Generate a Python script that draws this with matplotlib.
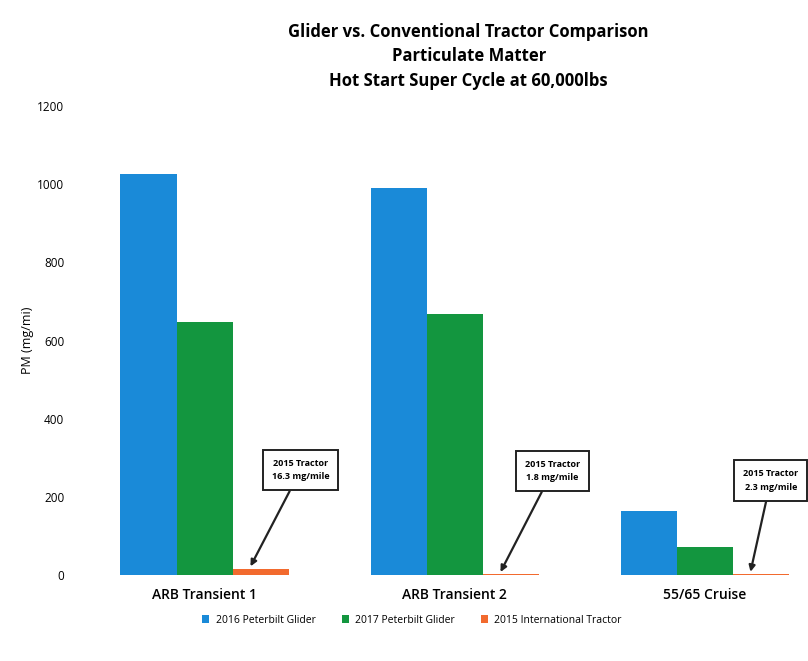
import matplotlib.pyplot as plt
import numpy as np

plt.rcParams["font.family"] = ["Open Sans", "DejaVu Sans"]

categories = ["ARB Transient 1", "ARB Transient 2", "55/65 Cruise"]
series = ["2016 Peterbilt Glider", "2017 Peterbilt Glider", "2015 International Tractor"]
glider_2016 = [1025, 990, 165]
glider_2017 = [648, 668, 72]
tractor_2015 = [16.3, 1.8, 2.3]
note_labels = ["2015 Tractor\n16.3 mg/mile", "2015 Tractor\n1.8 mg/mile", "2015 Tractor\n2.3 mg/mile"]
y_ticks = [0, 200, 400, 600, 800, 1000, 1200]

colors = ["#1a8ad8", "#13963f", "#f26a2e"]

fig = plt.figure(figsize=(8.08, 6.61), dpi=100)
ax = fig.add_axes([92 / 808, 0.130, 719 / 808, 0.7095])

x = np.arange(len(categories))
w = 0.224
for i, (name, vals) in enumerate(zip(series, [glider_2016, glider_2017, tractor_2015])):
    ax.bar(x + (i - 1) * w, vals, w, color=colors[i], label=name)

# callout boxes pointing at the tiny 2015 tractor bars
text_pos = [(0.384, 268), (1.392, 266), (2.265, 242)]
for xi, val, note, (tx, ty) in zip(x, tractor_2015, note_labels, text_pos):
    ax.annotate(
        note,
        xy=(xi + w - 0.04, val + 6),
        xytext=(tx, ty),
        ha="center",
        va="center",
        fontsize=6.5,
        fontweight="bold",
        linespacing=1.6,
        bbox=dict(boxstyle="square,pad=1.0", fc="white", ec="#222222", lw=1.4),
        arrowprops=dict(arrowstyle="-|>", color="#222222", lw=1.6, mutation_scale=9, shrinkA=0, shrinkB=0),
        annotation_clip=False,
    )

ax.set_xlim(-0.45, 2.426)
ax.set_ylim(0, 1200)
ax.set_yticks(y_ticks)
ax.set_yticklabels([str(t) for t in y_ticks], fontsize=8.5)
ax.set_xticks(x)
ax.set_xticklabels(categories, fontsize=10, fontweight="semibold")
ax.tick_params(axis="both", length=0)
ax.tick_params(axis="y", pad=20)
ax.tick_params(axis="x", pad=9)
for s in ax.spines.values():
    s.set_visible(False)
ax.set_ylabel("PM (mg/mi)", fontsize=9, labelpad=2)

fig.text(0.58, 0.952, "Glider vs. Conventional Tractor Comparison", ha="center", va="center",
         fontsize=12, fontweight="bold")
fig.text(0.58, 0.915, "Particulate Matter", ha="center", va="center", fontsize=12, fontweight="bold")
fig.text(0.58, 0.877, "Hot Start Super Cycle at 60,000lbs", ha="center", va="center",
         fontsize=12, fontweight="bold")

fig.legend(loc="center", bbox_to_anchor=(0.51, 0.062), ncol=3, frameon=False, fontsize=7.5,
           handlelength=0.7, handleheight=0.7, columnspacing=2.5, handletextpad=0.6)

fig.savefig("out.png", dpi=100)
